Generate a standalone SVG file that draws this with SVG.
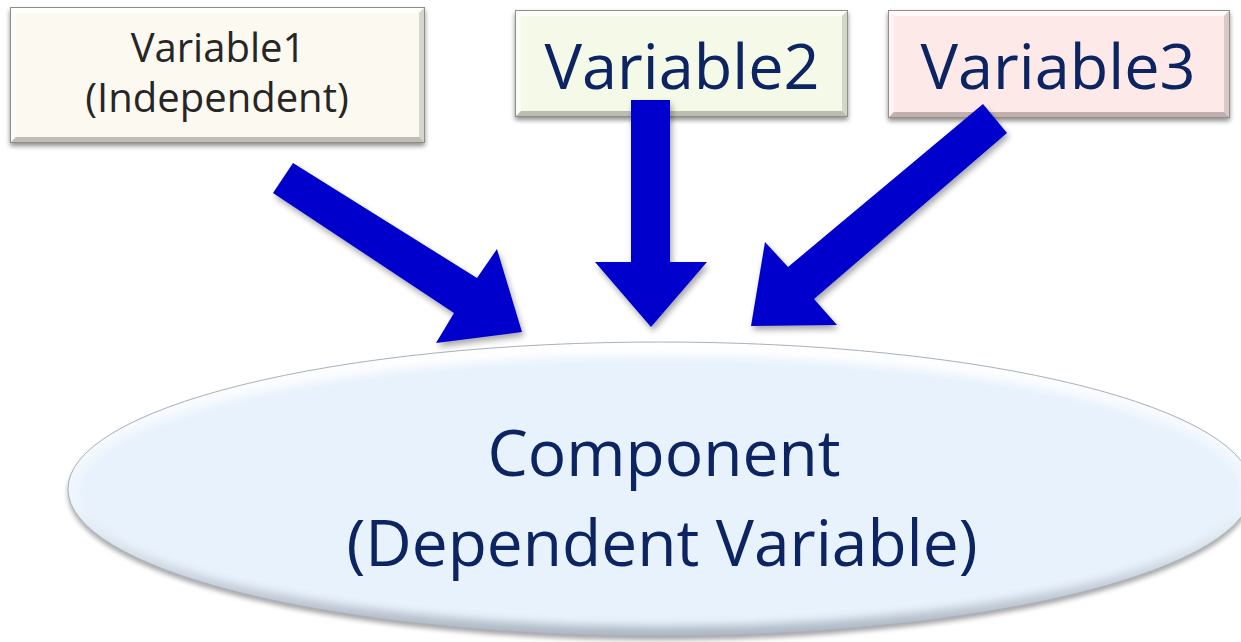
<svg xmlns="http://www.w3.org/2000/svg" width="1241" height="642" viewBox="0 0 1241 642">
  <style>
    .lbl { font-family: "Open Sans", "Noto Sans", sans-serif; text-anchor: middle; }
    .navy { fill: #0c2461; }
    .dark { fill: #262626; }
    .edge { fill: none; stroke: #8f8f88; stroke-width: 1; }
    .hi { fill: #ffffff; opacity: 0.75; }
    .hi2 { fill: #ffffff; opacity: 0.5; }
    .lo { fill: #000000; opacity: 0.14; }
    .lo2 { fill: #000000; opacity: 0.24; }
    .shadow { fill: #000000; opacity: 0.45; filter: url(#soft); }
    .arrow { fill: #0000cc; filter: url(#dropArrow); }
  </style>
  <defs>
    <filter id="soft" x="-10%" y="-20%" width="120%" height="150%">
      <feGaussianBlur stdDeviation="2.5"/>
    </filter>
    <filter id="dropArrow" x="-20%" y="-20%" width="140%" height="140%">
      <feGaussianBlur in="SourceAlpha" stdDeviation="3"/>
      <feOffset dx="2" dy="4" result="b"/>
      <feComponentTransfer><feFuncA type="linear" slope="0.35"/></feComponentTransfer>
      <feMerge><feMergeNode/><feMergeNode in="SourceGraphic"/></feMerge>
    </filter>
    <filter id="innerBlur" x="-5%" y="-10%" width="110%" height="120%">
      <feGaussianBlur stdDeviation="4"/>
    </filter>
    <linearGradient id="ellBase" x1="0" y1="0" x2="0" y2="1">
      <stop offset="0" stop-color="#ffffff"/>
      <stop offset="0.55" stop-color="#eef5fc"/>
      <stop offset="1" stop-color="#aeb8c4"/>
    </linearGradient>
  </defs>

  <!-- dependent variable -->
  <g id="component">
    <ellipse cx="660" cy="493" rx="592" ry="147" fill="#000000" opacity="0.35" filter="url(#soft)"/>
    <ellipse cx="660" cy="489" rx="592" ry="147" fill="url(#ellBase)" stroke="#a8b2bd" stroke-width="1"/>
    <ellipse cx="660" cy="491" rx="582" ry="135" fill="#e8f2fc" filter="url(#innerBlur)"/>
    <text class="lbl navy" x="664" y="476" font-size="64">Component</text>
    <text class="lbl navy" x="662" y="566" font-size="64">(Dependent Variable)</text>
  </g>

  <!-- independent variables -->
  <g id="variable1">
    <rect class="shadow" x="10" y="10" width="415" height="136"/>
    <rect x="10" y="7" width="415" height="136" fill="#fbf9f0"/>
    <polygon class="hi" points="10,7 425,7 419,13 16,13"/>
    <polygon class="hi2" points="10,7 16,13 16,137 10,143"/>
    <polygon class="lo" points="425,7 425,143 419,137 419,13"/>
    <polygon class="lo2" points="10,143 425,143 419,137 16,137"/>
    <rect class="edge" x="10.5" y="7.5" width="414" height="135"/>
    <text class="lbl dark" x="218" y="62" font-size="40">Variable1</text>
    <text class="lbl dark" x="217" y="112" font-size="40">(Independent)</text>
  </g>

  <g id="variable2">
    <rect class="shadow" x="515" y="13" width="333" height="107"/>
    <rect x="515" y="10" width="333" height="107" fill="#f5fae8"/>
    <polygon class="hi" points="515,10 848,10 842,16 521,16"/>
    <polygon class="hi2" points="515,10 521,16 521,111 515,117"/>
    <polygon class="lo" points="848,10 848,117 842,111 842,16"/>
    <polygon class="lo2" points="515,117 848,117 842,111 521,111"/>
    <rect class="edge" x="515.5" y="10.5" width="332" height="106"/>
    <text class="lbl navy" x="682" y="89" font-size="63">Variable2</text>
  </g>

  <g id="variable3">
    <rect class="shadow" x="888" y="13" width="342" height="108"/>
    <rect x="888" y="10" width="342" height="108" fill="#fde9e7"/>
    <polygon class="hi" points="888,10 1230,10 1224,16 894,16"/>
    <polygon class="hi2" points="888,10 894,16 894,112 888,118"/>
    <polygon class="lo" points="1230,10 1230,118 1224,112 1224,16"/>
    <polygon class="lo2" points="888,118 1230,118 1224,112 894,112"/>
    <rect class="edge" x="888.5" y="10.5" width="341" height="107"/>
    <text class="lbl navy" x="1058" y="89" font-size="63">Variable3</text>
  </g>

  <!-- block arrows into the component -->
  <g id="connectors">
    <polygon class="arrow" points="293,163 477,278 497,249 522,332 436,343 454,313 273,193"/>
    <polygon class="arrow" points="631,100 670,100 670,262 707,262 651,327 595,262 631,262"/>
    <polygon class="arrow" points="983,104 1007,133 814,299 837,325 751,326 765,242 788,267"/>
  </g>
</svg>
